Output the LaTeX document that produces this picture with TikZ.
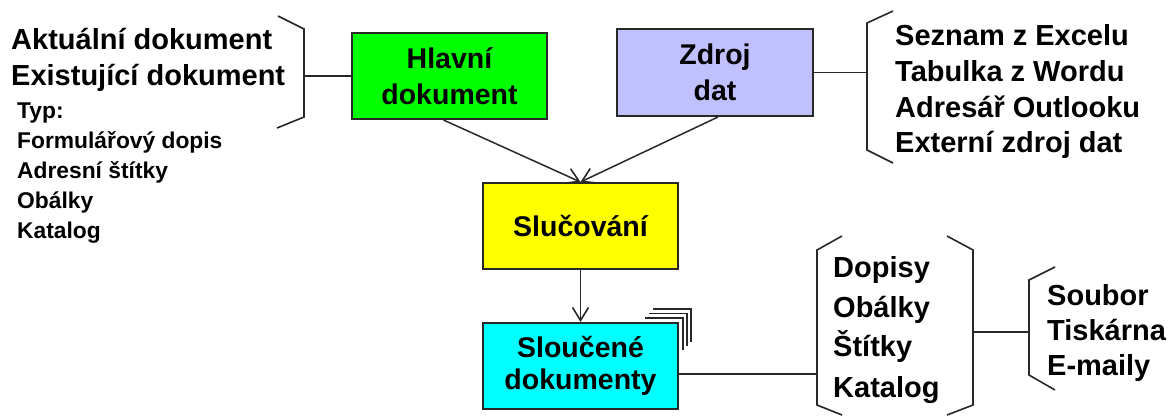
\documentclass[tikz,border=0pt]{standalone}
\usepackage{fontspec}
\setmainfont{Liberation Sans}
\usetikzlibrary{arrows.meta,calc}
\definecolor{boxgreen}{RGB}{0,255,0}
\definecolor{boxblue}{RGB}{192,192,255}
\definecolor{boxyellow}{RGB}{255,255,0}
\definecolor{boxcyan}{RGB}{0,255,255}
\definecolor{edge}{RGB}{40,40,40}
\tikzset{
  procbox/.style={draw=edge,line width=2pt,minimum width=195pt,minimum height=86pt,inner sep=0pt,align=center,font=\fontsize{28.5}{36}\selectfont\bfseries},
  bigtxt/.style={anchor=base west,inner sep=0pt,font=\fontsize{29}{34}\selectfont\bfseries},
  smalltxt/.style={anchor=base west,inner sep=0pt,font=\fontsize{22.8}{28}\selectfont\bfseries},
  conn/.style={draw=edge,line width=1.6pt},
  brack/.style={draw=edge,line width=1.6pt,line join=miter},
  arr/.style={draw=edge,line width=1.5pt,-{Straight Barb[length=13pt,width=16pt,line width=1.6pt]}}
}
\begin{document}
\begin{tikzpicture}[x=1pt,y=-1pt]
\useasboundingbox (0,0) rectangle (1173,416);
% boxes
\node[procbox,fill=boxgreen] (hlavni) at (449.5,76) {Hlavní\\dokument};
\node[procbox,fill=boxblue,minimum width=196pt,minimum height=87pt] (zdroj) at (715,72.5) {Zdroj\\dat};
\node[procbox,fill=boxyellow] (sluc) at (580.5,226) {Slučování};
\node[procbox,fill=boxcyan,font=\fontsize{28.5}{32}\selectfont\bfseries] (slouc) at (580.5,366) {Sloučené\\dokumenty};
% stacked corner marks
\draw[conn,line width=1.4pt] (645,318) -- (683,318) -- (683,350);
\draw[conn,line width=1.4pt] (649,313.5) -- (687,313.5) -- (687,346);
\draw[conn,line width=1.4pt] (653,309) -- (691,309) -- (691,342);
% arrows
\draw[arr] ($(hlavni.south)+(-6,0)$) -- (sluc.north);
\draw[arr] ($(zdroj.south)+(3,0)$) -- (sluc.north);
\draw[arr] (sluc.south) -- (slouc.north);
% left bracket
\draw[brack] (278,16) -- (304,29) -- (304,117) -- (277,128);
\coordinate (lb) at (304,76);
\draw[conn] (lb) -- (hlavni.west);
% right bracket
\draw[brack] (893,11) -- (867,23) -- (867,150) -- (893,163);
\coordinate (rb) at (867,72.5);
\draw[conn] (zdroj.east) -- (rb);
% middle brackets
\draw[brack] (842,236) -- (817,250) -- (817,405) -- (842,415);
\draw[brack] (947,236) -- (973,250) -- (973,405) -- (947,415);
\coordinate (mbl) at (817,374);
\coordinate (mbr) at (973,332);
\draw[conn] (slouc.east |- mbl) -- (mbl);
% third bracket
\draw[brack] (1055,267) -- (1029,280) -- (1029,375) -- (1055,390);
\coordinate (tb) at (1029,332);
\draw[conn] (mbr) -- (tb);
% left texts
\node[bigtxt] (l1) at (11,49) {Aktuální dokument};
\node[bigtxt] (l2) at (11,85) {Existující dokument};
\node[smalltxt] (s1) at (17,118) {Typ:};
\node[smalltxt] (s2) at (17,148) {Formulářový dopis};
\node[smalltxt] (s3) at (17,178) {Adresní štítky};
\node[smalltxt] (s4) at (17,208) {Obálky};
\node[smalltxt] (s5) at (17,238) {Katalog};
% right texts
\node[bigtxt] (r1) at (895,45) {Seznam z Excelu};
\node[bigtxt] (r2) at (895,81) {Tabulka z Wordu};
\node[bigtxt] (r3) at (895,117) {Adresář Outlooku};
\node[bigtxt] (r4) at (895,152) {Externí zdroj dat};
% middle list
\node[bigtxt] (m1) at (833,277) {Dopisy};
\node[bigtxt] (m2) at (833,317) {Obálky};
\node[bigtxt] (m3) at (833,356) {Štítky};
\node[bigtxt] (m4) at (833,397) {Katalog};
% third list
\node[bigtxt] (t1) at (1047,305) {Soubor};
\node[bigtxt] (t2) at (1047,340) {Tiskárna};
\node[bigtxt] (t3) at (1047,375) {E-maily};
\end{tikzpicture}
\end{document}
